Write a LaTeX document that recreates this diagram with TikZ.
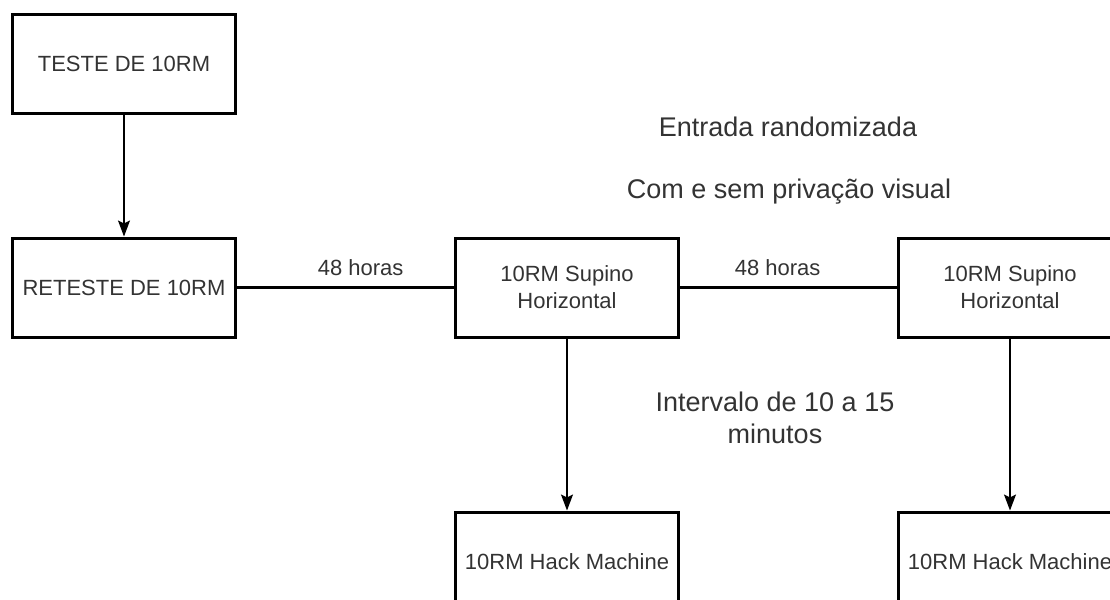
\documentclass[tikz,border=0pt]{standalone}
\usepackage{fontspec}
\setmainfont{Liberation Sans}
\usetikzlibrary{arrows.meta,positioning}

\begin{document}
\begin{tikzpicture}[every node/.style={align=center,text=black!80},b/.style={draw=black,line width=1.5pt,minimum width=111.5pt,minimum height=49.5pt,inner sep=2pt,font=\fontsize{11}{13.5}\selectfont},lb/.style={font=\fontsize{13.5}{16}\selectfont},>={Stealth[length=8pt,width=6pt,inset=1.5pt]}]
\useasboundingbox (0,0) rectangle (555pt,-300pt);
\node[b] (t) at (62pt,-31.75pt) {TESTE DE 10RM};
\node[b,below=61pt of t] (r) {RETESTE DE 10RM};
\node[b,right=108.5pt of r] (s1) {10RM Supino\\Horizontal};
\node[b,right=108.5pt of s1] (s2) {10RM Supino\\Horizontal};
\node[b,below=86pt of s1] (h1) {10RM Hack Machine};
\node[b,below=86pt of s2] (h2) {10RM Hack Machine};
\node[lb] (ent) at (394pt,-63.5pt) {Entrada randomizada};
\node[lb] (pv) at (394.5pt,-96pt) {Com e sem privação visual};
\node[lb] (iv) at (387.5pt,-208.75pt) {Intervalo de 10 a 15\\minutos};
\draw[->,line width=0.7pt] (t)--(r);
\draw[line width=1.2pt] (r)--node[pos=0.57,above=2pt,font=\fontsize{11}{13.5}\selectfont]{48 horas}(s1);
\draw[line width=1.2pt] (s1)--node[pos=0.45,above=2pt,font=\fontsize{11}{13.5}\selectfont]{48 horas}(s2);
\draw[->,line width=0.7pt] (s1)--(h1);\draw[->,line width=0.7pt] (s2)--(h2);
\end{tikzpicture}
\end{document}
